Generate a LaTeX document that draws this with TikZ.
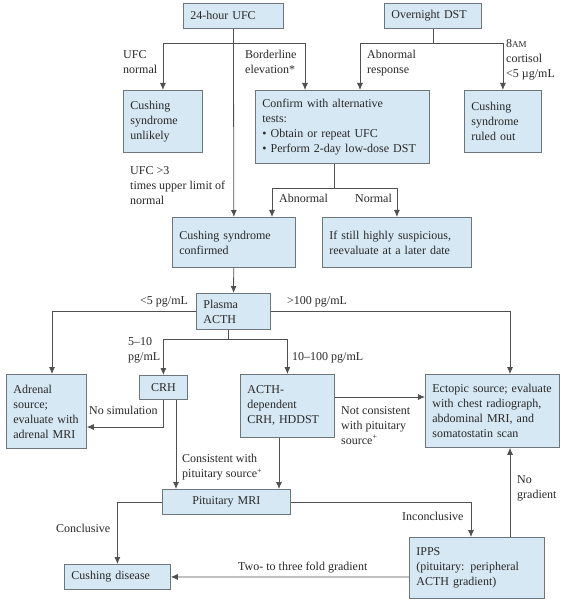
\documentclass[tikz,border=0pt]{standalone}
\usepackage{fontspec}
\setmainfont{Liberation Serif}
\usetikzlibrary{arrows.meta}
\definecolor{boxfill}{RGB}{214,232,243}
\definecolor{boxline}{RGB}{110,118,124}
\definecolor{flowline}{RGB}{80,80,80}
\definecolor{txt}{RGB}{40,40,40}

\tikzset{
  stepbox/.style={draw=boxline, fill=boxfill, line width=0.8pt, rectangle, anchor=north west, align=left, inner xsep=7pt, inner ysep=2pt, text=txt},
  lbl/.style={anchor=north west, align=left, inner sep=0pt, text=txt},
  flow/.style={->, draw=flowline, line width=0.8pt}
}

\begin{document}
\begin{tikzpicture}[x=1pt, y=-1pt, >={Latex[length=7pt,width=6pt]}, font=\fontsize{12}{15}\selectfont]
  \useasboundingbox (0,0) rectangle (564,601);

  % boxes
  \node[stepbox, text width=86pt, minimum height=25pt] (ufc) at (183,3) {24-hour UFC};
  \node[stepbox, text width=83pt, minimum height=25pt] (dst) at (384,3) {Overnight DST};
  \node[stepbox, text width=65pt, minimum height=62pt] (unlikely) at (123,90) {Cushing\\syndrome\\unlikely};
  \node[stepbox, text width=160pt, minimum height=73pt] (confirm) at (255,90) {Confirm with alternative\\tests:\\• Obtain or repeat UFC\\• Perform 2-day low-dose DST};
  \node[stepbox, text width=63pt, minimum height=62pt] (ruledout) at (464,90) {Cushing\\syndrome\\ruled out};
  \node[stepbox, text width=109pt, minimum height=50pt] (confirmed) at (172,217) {Cushing syndrome\\confirmed};
  \node[stepbox, text width=135pt, minimum height=50pt] (suspicious) at (322,217) {If still highly suspicious,\\reevaluate at a later date};
  \node[stepbox, text width=60pt, minimum height=36pt] (acth) at (196,293) {Plasma\\ACTH};
  \node[stepbox, text width=66pt, minimum height=74pt] (adrenal) at (6,374) {Adrenal\\source;\\evaluate with\\adrenal MRI};
  \node[stepbox, text width=34pt, minimum height=24pt, align=center] (crh) at (139,375) {CRH};
  \node[stepbox, text width=80pt, minimum height=63pt] (acthdep) at (240,374) {ACTH-\\dependent\\CRH, HDDST};
  \node[stepbox, text width=120pt, minimum height=73pt] (ectopic) at (425,374) {Ectopic source; evaluate\\with chest radiograph,\\abdominal MRI, and\\somatostatin scan};
  \node[stepbox, text width=114pt, minimum height=25pt, align=center] (mri) at (162,489) {Pituitary MRI};
  \node[stepbox, text width=92pt, minimum height=25pt] (disease) at (64,564) {Cushing disease};
  \node[stepbox, text width=121pt, minimum height=61pt] (ipps) at (409,537) {IPPS\\(pituitary: peripheral\\ACTH gradient)};

  % labels
  \node[lbl] (ufcnormal) at (123,50) {UFC\\normal};
  \node[lbl] (borderline) at (245,50) {Borderline\\elevation*};
  \node[lbl] (abnresp) at (367,50) {Abnormal\\response};
  \node[lbl] (cortisol) at (506,39) {8{\small AM}\\cortisol\\<5 µg/mL};
  \node[lbl] (ufcthree) at (130,166) {UFC >3\\times upper limit of\\normal};
  \node[lbl] (abnormal) at (279,194) {Abnormal};
  \node[lbl] (normal) at (355,194) {Normal};
  \node[lbl] (lowacth) at (140,296) {<5 pg/mL};
  \node[lbl] (highacth) at (287,296) {>100 pg/mL};
  \node[lbl] (midlow) at (128,337) {5--10\\pg/mL};
  \node[lbl] (midhigh) at (292,352) {10--100 pg/mL};
  \node[lbl] (nosim) at (89,406) {No simulation};
  \node[lbl] (notcons) at (341,406) {Not consistent\\with pituitary\\source\textsuperscript{+}};
  \node[lbl] (cons) at (182,454) {Consistent with\\pituitary source\textsuperscript{+}};
  \node[lbl] (conclusive) at (56,524) {Conclusive};
  \node[lbl] (inconclusive) at (402,512) {Inconclusive};
  \node[lbl] (nograd) at (517,475) {No\\gradient};
  \node[lbl] (twofold) at (238,562) {Two- to three fold gradient};

  % split points
  \coordinate (ufcsplit) at (ufc.south |- 0,43);
  \coordinate (dstsplit) at (dst.south |- 0,43);
  \coordinate (confout) at ([xshift=79pt]confirm.south west);
  \coordinate (confsplit) at (confout |- 0,188);
  \coordinate (acthout) at ([xshift=32pt]acth.south west);
  \coordinate (acthsplit) at (acthout |- 0,339);
  \coordinate (crhout) at ([xshift=37pt]crh.south west);
  \coordinate (depout) at ([xshift=39pt]acthdep.south west);
  \coordinate (depright) at ([yshift=-23pt]acthdep.north east);

  % connectors
  \draw[flow] (ufc) -- (confirmed);
  \draw[flow] (ufcsplit) -| (unlikely);
  \draw[flow] (ufcsplit) -| ([xshift=50pt]confirm.north west);
  \draw[flowline, line width=0.8pt] (dst) -- (dstsplit);
  \draw[flow] (dstsplit) -| ([xshift=105pt]confirm.north west);
  \draw[flow] (dstsplit) -| (ruledout);
  \draw[flowline, line width=0.8pt] (confout) -- (confsplit);
  \draw[flow] (confsplit) -| ([xshift=100pt]confirmed.north west);
  \draw[flow] (confsplit) -| (suspicious);
  \draw[flow] (confirmed) -- (acth);
  \draw[flow] (acth.west) -| ([xshift=46pt]adrenal.north west);
  \draw[flow] (acth.east) -| ([xshift=85pt]ectopic.north west);
  \draw[flowline, line width=0.8pt] (acthout) -- (acthsplit);
  \draw[flow] (acthsplit) -| (crh);
  \draw[flow] (acthsplit) -| (acthdep);
  \draw[flow] (crh.south) |- ([yshift=-53pt]adrenal.north east);
  \draw[flow] (crhout) -- (crhout |- mri.north);
  \draw[flow] (depout) -- (depout |- mri.north);
  \draw[flow] (depright) -- (depright -| ectopic.west);
  \draw[flow] (mri.west) -| (disease);
  \draw[flow] (mri.east) -| ([xshift=62pt]ipps.north west);
  \draw[flow] ([xshift=101pt]ipps.north west) -- ([xshift=85pt]ectopic.south west);
  \draw[flow] ([yshift=-40pt]ipps.north west) -- (disease.east);
\end{tikzpicture}
\end{document}
